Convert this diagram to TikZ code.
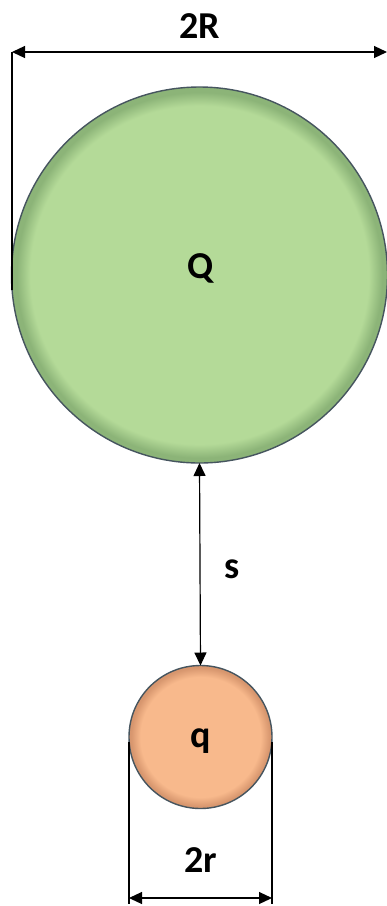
\documentclass[tikz,border=0pt]{standalone}
\usepackage{fontspec}
\setmainfont{Carlito}
\usetikzlibrary{arrows.meta}
\definecolor{bigfill}{RGB}{180,218,152}
\definecolor{bigrim}{RGB}{140,180,120}
\definecolor{smallfill}{RGB}{248,185,140}
\definecolor{smallrim}{RGB}{215,150,110}
\definecolor{rim}{RGB}{70,85,95}
\pgfdeclareradialshading{bigball}{\pgfpoint{0bp}{0bp}}{color(0bp)=(bigfill); color(22.5bp)=(bigfill); color(24.3bp)=(bigrim); color(25bp)=(bigrim); color(50bp)=(bigrim)}
\pgfdeclareradialshading{smallball}{\pgfpoint{0bp}{0bp}}{color(0bp)=(smallfill); color(21bp)=(smallfill); color(24.3bp)=(smallrim); color(25bp)=(smallrim); color(50bp)=(smallrim)}
\tikzset{
  ball/.style={circle, draw=rim, line width=1.4pt, inner sep=0pt, outer sep=0pt},
  lbl/.style={font=\bfseries\fontsize{38}{42}\selectfont, anchor=base, inner sep=0pt},
  dim/.style={line width=1.2pt, {Triangle[length=13pt,width=12pt]}-{Triangle[length=13pt,width=12pt]}},
  ext/.style={line width=1.2pt}
}
\begin{document}
\begin{tikzpicture}[x=1pt,y=-1pt]
\useasboundingbox (0,0) rectangle (387,906);
\fill[white] (0,0) rectangle (387,906);
% spheres
\node[ball, shading=bigball, minimum size=376pt] (Q) at (199.5,275) {};
\node[ball, shading=smallball, minimum size=143pt] (q) at (200.5,737) {};
% labels
\node[lbl] (Qt) at (201,278) {Q};
\node[lbl] (qt) at (201,747) {q};
\node[lbl] (tR) at (200,38) {2R};
\node[lbl] (tr) at (201,872) {2r};
\node[lbl] (ts) at (232,578) {s};
% 2R dimension
\coordinate (RL) at (12,52);
\coordinate (RR) at (387,52);
\coordinate (RLb) at (12,290);
\draw[ext] (RL) -- (RLb);
\draw[dim] (RL) -- (RR);
% s dimension
\draw[dim] (Q.south) -- (q.north);
% 2r dimension
\coordinate (rL) at (129,898);
\coordinate (rR) at (272,898);
\coordinate (rLt) at (129,742);
\coordinate (rRt) at (272,742);
\coordinate (rLb) at (129,904);
\coordinate (rRb) at (272,904);
\draw[ext] (rLt) -- (rLb);
\draw[ext] (rRt) -- (rRb);
\draw[dim] (rL) -- (rR);
\end{tikzpicture}
\end{document}
